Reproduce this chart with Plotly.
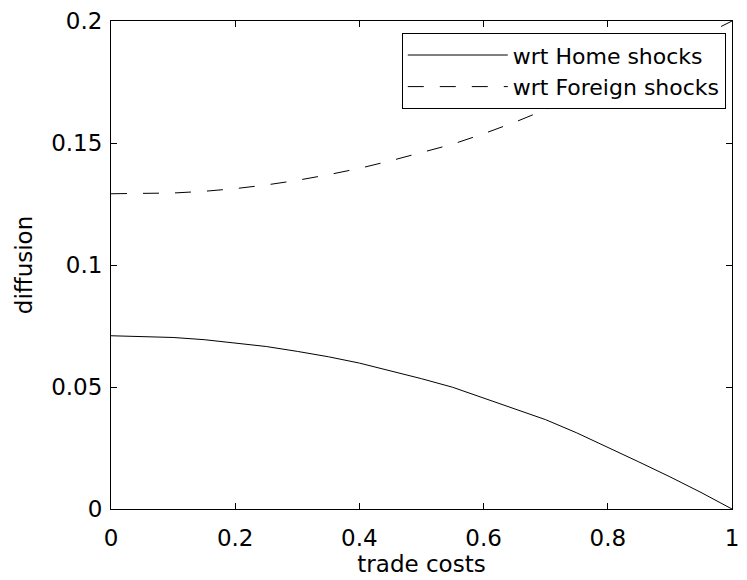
import plotly.graph_objects as go

trade_costs = [0.0, 0.05, 0.1, 0.15, 0.2, 0.25, 0.3, 0.35, 0.4, 0.45, 0.5,
               0.55, 0.6, 0.65, 0.7, 0.75, 0.8, 0.85, 0.9, 0.95, 1.0]
home_shocks = [0.0710, 0.0708, 0.0703, 0.0694, 0.0681, 0.0666, 0.0646, 0.0624,
               0.0598, 0.0567, 0.0534, 0.0499, 0.0455, 0.0411, 0.0366, 0.0312,
               0.0254, 0.0193, 0.0132, 0.0068, 0.0]
foreign_shocks = [0.1292, 0.1292, 0.1295, 0.1302, 0.1313, 0.1328, 0.1347, 0.1370,
                  0.1396, 0.1427, 0.1460, 0.1495, 0.1538, 0.1585, 0.1637, 0.1693,
                  0.1752, 0.1813, 0.1874, 0.1936, 0.2000]

x_ticks = [0, 0.2, 0.4, 0.6, 0.8, 1]
x_tick_text = ["0", "0.2", "0.4", "0.6", "0.8", "1"]
y_ticks = [0, 0.05, 0.1, 0.15, 0.2]
y_tick_text = ["0", "0.05", "0.1", "0.15", "0.2"]

FONT = "DejaVu Sans, Liberation Sans, Arial, sans-serif"
FS = 23

fig = go.Figure()
fig.add_trace(go.Scatter(x=trade_costs, y=home_shocks, mode="lines",
                         name="wrt Home shocks",
                         line=dict(color="black", width=1)))
fig.add_trace(go.Scatter(x=trade_costs, y=foreign_shocks, mode="lines",
                         name="wrt Foreign shocks",
                         line=dict(color="black", width=1, dash="16px,16px")))

axis_common = dict(showgrid=False, zeroline=False, showline=True, linecolor="black",
                   linewidth=1, mirror="allticks", ticks="inside", ticklen=6,
                   tickcolor="black", tickwidth=1,
                   tickfont=dict(family=FONT, size=FS, color="black"))

fig.update_xaxes(range=[0, 1], tickvals=x_ticks, ticktext=x_tick_text,
                 title=dict(text="trade costs", font=dict(family=FONT, size=FS, color="black"),
                            standoff=4),
                 ticklabelstandoff=8, **axis_common)
fig.update_yaxes(range=[0, 0.2], tickvals=y_ticks, ticktext=y_tick_text,
                 title=dict(text="diffusion", font=dict(family=FONT, size=FS, color="black"),
                            standoff=12),
                 ticklabelstandoff=3, **axis_common)

fig.update_layout(
    width=747, height=580,
    margin=dict(l=111, r=8, t=19, b=71),
    paper_bgcolor="white", plot_bgcolor="white",
    font=dict(family=FONT, size=FS, color="black"),
    legend=dict(x=0.99, y=0.975, xanchor="right", yanchor="top",
                bgcolor="white", bordercolor="black", borderwidth=1,
                itemwidth=100, tracegroupgap=0,
                font=dict(family=FONT, size=22, color="black")),
    showlegend=True,
)

fig.write_html("out.html")
